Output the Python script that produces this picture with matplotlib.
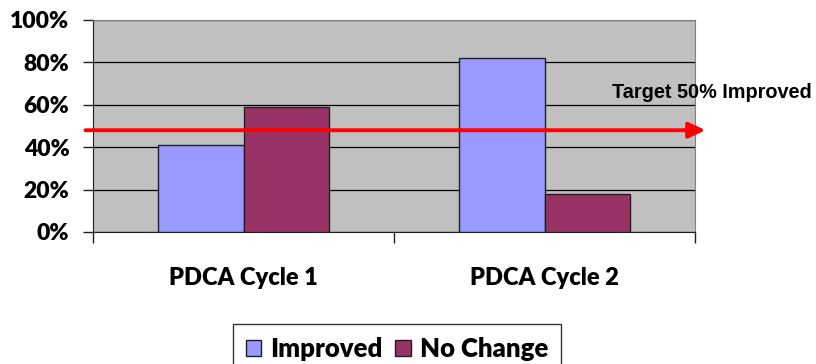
import numpy as np
import matplotlib.pyplot as plt
from matplotlib.ticker import PercentFormatter

# data
cycles = ["PDCA Cycle 1", "PDCA Cycle 2"]
improved = [0.41, 0.82]
no_change = [0.59, 0.18]
target = 0.48
series_names = ["Improved", "No Change"]

plt.rcParams["font.family"] = ["Lato", "DejaVu Sans"]
plt.rcParams["font.weight"] = 800

fig = plt.figure(figsize=(8.16, 3.64), dpi=100)
ax = fig.add_axes([93/816, 1 - 232/364, 602/816, 212/364])
ax.set_facecolor("#C0C0C0")

x = np.arange(len(cycles))
w = 0.285
ax.bar(x - w/2, improved, w, color="#9999FF", edgecolor="#202020", linewidth=1.0,
       label=series_names[0], zorder=3)
ax.bar(x + w/2, no_change, w, color="#993366", edgecolor="#202020", linewidth=1.0,
       label=series_names[1], zorder=3)

ax.set_xlim(-0.5, 1.5)
ax.set_ylim(0, 1)
ax.set_yticks(np.arange(0, 1.01, 0.2))
ax.yaxis.set_major_formatter(PercentFormatter(1.0, decimals=0))
ax.grid(axis="y", color="black", linewidth=0.9, zorder=1)
ax.set_axisbelow(True)

# category boundaries as ticks, labels centred on categories
ax.set_xticks([-0.5, 0.5, 1.5])
ax.set_xticklabels([])
ax.set_xticks(x, minor=True)
ax.set_xticklabels(cycles, minor=True)
ax.tick_params(axis="x", which="major", length=8, width=1, color="#202020", direction="out")
ax.tick_params(axis="x", which="minor", length=0, pad=25, labelsize=17)
ax.tick_params(axis="y", length=7, width=1, color="#202020", pad=10, labelsize=16.5)

for side in ["top", "right"]:
    ax.spines[side].set_color("#808080")
for side in ["left", "bottom"]:
    ax.spines[side].set_color("#202020")

# target arrow
ax.annotate("", xy=(1.535, target), xytext=(-0.525, target),
            xycoords="data", annotation_clip=False,
            arrowprops=dict(arrowstyle="-|>,head_length=1.0,head_width=0.47",
                            color="#FF0000", lw=2.8, shrinkA=0, shrinkB=0), zorder=5)
fig.text(612/816, 1 - 98/364, "Target 50% Improved", fontfamily="Liberation Sans",
         fontweight="bold", fontsize=14.3, va="baseline", ha="left")

leg = ax.legend(loc="upper left", bbox_to_anchor=(233/816, 1 - 324/364),
                bbox_transform=fig.transFigure, ncol=2, frameon=True, fancybox=False,
                edgecolor="black", prop={"weight": 800, "size": 18.5},
                handlelength=0.6, handleheight=0.6, handletextpad=0.35, columnspacing=0.5,
                borderpad=0.5, borderaxespad=0)
leg.get_frame().set_linewidth(1.0)

fig.savefig("out.png", dpi=100)
